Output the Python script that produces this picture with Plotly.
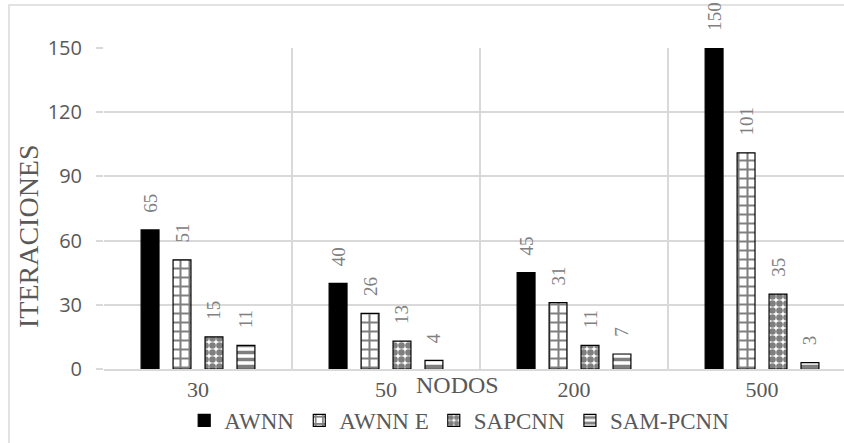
import plotly.graph_objects as go

# Number of nodes in each test network
nodos = ["30", "50", "200", "500"]

# Iterations needed by each method
awnn = [65, 40, 45, 150]
awnn_e = [51, 26, 31, 101]
sapcnn = [15, 13, 11, 35]
sam_pcnn = [11, 4, 7, 3]

series = [
    ("AWNN", awnn, dict(shape="", fgcolor="black", bgcolor="black")),
    ("AWNN E", awnn_e, dict(shape="+", fgcolor="black", bgcolor="white", size=9, solidity=0.4)),
    ("SAPCNN", sapcnn, dict(shape=".", fgcolor="black", bgcolor="white", size=7, solidity=0.7)),
    ("SAM-PCNN", sam_pcnn, dict(shape="-", fgcolor="black", bgcolor="white", size=7, solidity=0.5)),
]

SERIF = "Liberation Serif, Times New Roman, serif"
PAD = "\u00a0\u00a0\u00a0"  # small gap between bar end and its rotated label

fig = go.Figure()
for name, vals, pat in series:
    fig.add_trace(go.Bar(
        name=name,
        x=nodos,
        y=vals,
        text=[PAD + str(v) for v in vals],
        textposition="outside",
        textangle=-90,
        constraintext="none",
        textfont=dict(family=SERIF, size=19, color="#808080"),
        outsidetextfont=dict(family=SERIF, size=19, color="#808080"),
        cliponaxis=False,
        marker=dict(color="black" if pat["shape"] == "" else "white",
                    pattern=pat,
                    line=dict(color="black", width=1.2)),
    ))

grid = "#d9d9d9"
fig.update_layout(
    width=844, height=443,
    margin=dict(l=104, r=0, t=48, b=74),
    paper_bgcolor="white", plot_bgcolor="white",
    barmode="group", bargap=0.32, bargroupgap=0.44,
    showlegend=True,
    legend=dict(orientation="h", x=0.48, xanchor="center", y=-0.16, yanchor="middle",
                font=dict(family=SERIF, size=23, color="#595959"),
                itemwidth=30, tracegroupgap=0),
    xaxis=dict(type="category", range=[-0.5, 3.436], tickson="boundaries",
               showgrid=True, gridcolor=grid, gridwidth=1.5,
               showline=True, linecolor=grid, linewidth=1.5,
               ticks="", tickfont=dict(family=SERIF, size=22, color="#595959")),
    yaxis=dict(range=[0, 150], tickvals=[0, 30, 60, 90, 120, 150],
               showgrid=True, gridcolor=grid, gridwidth=1.5, zeroline=False,
               ticks="outside", ticklen=7, tickcolor=grid, tickwidth=1.5,
               ticklabelstandoff=10,
               tickfont=dict(family="Open Sans", size=20, color="#595959")),
    annotations=[
        dict(text="NODOS", xref="paper", yref="paper",
             x=(457 - 104) / 740, y=(369 - 385) / 321,
             xanchor="center", yanchor="middle", showarrow=False,
             font=dict(family=SERIF, size=24, color="#595959")),
        dict(text="ITERACIONES", xref="paper", yref="paper", textangle=-90,
             x=(28 - 104) / 740, y=(369 - 236) / 321,
             xanchor="center", yanchor="middle", showarrow=False,
             font=dict(family=SERIF, size=28, color="#595959")),
    ],
    shapes=[dict(type="rect", xref="paper", yref="paper",
                 x0=(9 - 104) / 740, x1=(870 - 104) / 740,
                 y0=(369 - 460) / 321, y1=(369 - 5) / 321,
                 line=dict(color=grid, width=1.5), fillcolor="rgba(0,0,0,0)", layer="below")],
)

fig.write_html("out.html")
